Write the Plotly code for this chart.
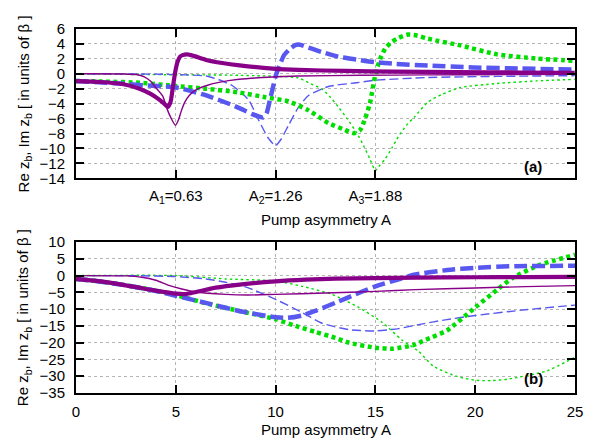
import numpy as np
import plotly.graph_objects as go

PI = np.pi

# ---------------- panel (a) data ----------------
a_re1_x = [0, 0.15, 0.3, 0.4, 0.47, 0.52, 0.555, 0.578, 0.595, 0.61, 0.625, 0.64, 0.655, 0.671, 0.70, 0.74, 0.82, 0.92, 1.03, 1.24, 1.4, 1.7, 2.0, 2.4, 2.8, 3.14]
a_re1_y = [-0.97, -1.1, -1.4, -2.0, -2.7, -3.4, -4.0, -4.45, -3.8, -1.8, 0.3, 1.65, 2.3, 2.5, 2.6, 2.4, 1.86, 1.45, 1.13, 0.7, 0.52, 0.38, 0.3, 0.22, 0.17, 0.14]

a_im1_x = [0, 0.3, 0.38, 0.43, 0.47, 0.5, 0.546, 0.575, 0.6, 0.626, 0.645, 0.661, 0.685, 0.713, 0.76, 0.818, 0.9, 1.026, 1.235, 1.4, 1.8, 2.2, 2.7, 3.14]
a_im1_y = [0, -0.02, -0.1, -0.4, -1.0, -1.8, -3.0, -4.8, -6.0, -6.9, -6.2, -5.1, -3.8, -2.9, -2.1, -1.6, -1.15, -0.74, -0.43, -0.3, -0.2, -0.15, -0.1, -0.08]

a_re2_x = [0, 0.2, 0.4, 0.63, 0.82, 0.985, 1.05, 1.11, 1.15, 1.18, 1.20, 1.22, 1.24, 1.26, 1.285, 1.31, 1.345, 1.38, 1.41, 1.464, 1.55, 1.652, 1.77, 1.882, 2.0, 2.215, 2.5, 2.8, 3.14]
a_re2_y = [-0.97, -1.2, -1.5, -1.84, -2.9, -4.2, -4.8, -5.4, -5.7, -5.85, -5.3, -3.6, -1.8, -0.1, 1.3, 2.5, 3.3, 3.85, 3.9, 3.5, 2.9, 2.3, 1.9, 1.56, 1.35, 1.1, 0.85, 0.7, 0.57]

a_im2_x = [0, 0.4, 0.7, 0.818, 0.9, 0.985, 1.05, 1.09, 1.15, 1.21, 1.256, 1.29, 1.339, 1.40, 1.464, 1.589, 1.767, 1.88, 2.215, 2.65, 3.14]
a_im2_y = [0, -0.02, -0.15, -0.3, -0.8, -1.6, -2.7, -3.6, -6.2, -8.6, -9.6, -8.8, -6.85, -4.5, -2.9, -1.7, -1.2, -0.87, -0.5, -0.35, -0.25]

a_re3_x = [0, 0.2, 0.4, 0.609, 0.818, 1.026, 1.193, 1.339, 1.464, 1.589, 1.68, 1.75, 1.79, 1.82, 1.85, 1.885, 1.915, 1.947, 1.99, 2.03, 2.09, 2.15, 2.215, 2.42, 2.65, 2.9, 3.14]
a_re3_y = [-0.97, -1.05, -1.2, -1.6, -2.0, -2.5, -3.15, -3.7, -4.9, -6.6, -7.4, -7.95, -7.5, -6.0, -4.0, -0.1, 2.0, 3.4, 4.3, 4.8, 5.25, 5.1, 4.7, 3.8, 2.6, 2.05, 1.73]

a_im3_x = [0, 0.4, 1.026, 1.4, 1.464, 1.548, 1.60, 1.652, 1.71, 1.767, 1.81, 1.85, 1.885, 1.915, 1.947, 1.99, 2.03, 2.08, 2.13, 2.215, 2.3, 2.42, 2.65, 2.9, 3.14]
a_im3_y = [0, -0.1, -0.2, -0.55, -1.2, -2.05, -3.1, -4.45, -6.1, -7.9, -9.6, -11.4, -12.95, -12.2, -11.4, -9.9, -8.4, -6.9, -5.8, -3.8, -2.8, -1.84, -1.3, -0.95, -0.75]

# ---------------- panel (b) data ----------------
b_re1_x = [0, 1, 2.5, 4, 5, 5.5, 6, 7, 8.3, 10, 11.5, 13, 15, 17, 20, 22.5, 25]
b_re1_y = [-1, -1.6, -2.9, -4.5, -5.4, -5.5, -4.9, -3.6, -2.6, -1.7, -1.2, -0.9, -0.75, -0.6, -0.5, -0.45, -0.4]

b_im1_x = [0, 2.5, 3.3, 4, 4.65, 5.3, 6, 7.5, 8.6, 10, 12.5, 15, 17, 20, 22.5, 25]
b_im1_y = [0, -0.1, -0.5, -1.4, -2.9, -4.0, -4.9, -5.6, -5.8, -5.6, -5.2, -4.7, -4.2, -3.7, -3.3, -3.0]

b_re2_x = [0, 1, 2.5, 4, 5, 6.6, 8.3, 10, 10.6, 11.33, 12, 13, 14, 15, 16, 17, 18.6, 20, 22, 25]
b_re2_y = [-1, -1.6, -2.9, -4.6, -6.0, -8.3, -10.7, -12.4, -12.6, -11.9, -10.5, -8.1, -5.6, -3.2, -1.4, 0.3, 1.65, 2.3, 2.8, 2.9]

b_im2_x = [0, 3, 5, 6.5, 7.5, 8.6, 10, 11.33, 12.33, 13.67, 15, 16.17, 17.17, 18.5, 20, 22.5, 25]
b_im2_y = [0, -0.05, -0.3, -1.0, -2.0, -3.6, -7.1, -11, -14.2, -16.1, -16.5, -15.8, -14.6, -13.2, -11.9, -10.2, -8.8]

b_re3_x = [0, 1, 2.5, 4, 5, 6.6, 8.3, 10, 11, 12, 13, 13.67, 15, 15.9, 16.9, 17.5, 18.6, 20, 21.1, 21.9, 23.2, 25]
b_re3_y = [-1, -1.6, -2.9, -4.5, -5.8, -8.4, -10.7, -13.0, -15.0, -16.8, -18.6, -20, -21.5, -21.8, -20.7, -19.2, -16.3, -9.5, -4.2, -0.6, 3.1, 6.2]

b_im3_x = [0, 5, 7.5, 10, 11.33, 12.83, 14.17, 15.33, 16.33, 17.17, 17.9, 19.1, 20, 20.8, 21.6, 23.6, 25]
b_im3_y = [0, 0, -1, -1.6, -3.2, -5.6, -9.5, -13.9, -19.2, -22.6, -27, -30.1, -31.2, -31.3, -30.9, -28.4, -24.3]

top_tickvals = [PI / 5, 2 * PI / 5, 3 * PI / 5]
top_ticktext = ["A<sub>1</sub>=0.63", "A<sub>2</sub>=1.26", "A<sub>3</sub>=1.88"]
bot_tickvals = [0, 5, 10, 15, 20, 25]

PURPLE = "#880088"
BLUE = "#5858f0"
GREEN = "#00dd00"

styles = {
    "re1": dict(color=PURPLE, width=4.2, dash="solid"),
    "im1": dict(color=PURPLE, width=1.4, dash="solid"),
    "re2": dict(color=BLUE, width=4.5, dash="13px,5px"),
    "im2": dict(color=BLUE, width=1.4, dash="9px,4px"),
    "re3": dict(color=GREEN, width=4.5, dash="4px,3.5px"),
    "im3": dict(color=GREEN, width=1.4, dash="2.5px,3px"),
}

fig = go.Figure()

def add(x, y, key, xa, ya):
    st = styles[key]
    fig.add_trace(go.Scatter(
        x=x, y=y, mode="lines", xaxis=xa, yaxis=ya, showlegend=False,
        line=dict(color=st["color"], width=st["width"], dash=st["dash"],
                  shape="spline", smoothing=0.6)))

panel_a = [("im3", a_im3_x, a_im3_y), ("im2", a_im2_x, a_im2_y), ("re3", a_re3_x, a_re3_y),
           ("re2", a_re2_x, a_re2_y), ("im1", a_im1_x, a_im1_y), ("re1", a_re1_x, a_re1_y)]
panel_b = [("im3", b_im3_x, b_im3_y), ("im2", b_im2_x, b_im2_y), ("re3", b_re3_x, b_re3_y),
           ("re2", b_re2_x, b_re2_y), ("im1", b_im1_x, b_im1_y), ("re1", b_re1_x, b_re1_y)]

for key, x, y in panel_a:
    add(x, y, key, "x", "y")
for key, x, y in panel_b:
    add(x, y, key, "x2", "y2")

FONT = "Liberation Sans, Arial, Helvetica, sans-serif"
FS = 15

axis_common = dict(
    showline=True, linecolor="black", linewidth=2, mirror="ticks",
    ticks="inside", ticklen=8, tickwidth=1.5, tickcolor="black",
    showgrid=True, gridcolor="#b4b4b4", griddash="dot", gridwidth=1,
    zeroline=False, tickfont=dict(size=FS, color="black", family=FONT),
)

# page body has an 8px offset; figure is sized so it ends at the window edge
OFF = 8
FIG_W, FIG_H = 595 - OFF, 439 - OFF
L_REF, R_REF, T_REF, B_REF = 76, 578, 20, 393

def py(pix):
    return (B_REF - pix) / (B_REF - T_REF)

def px(pix):
    return (pix - L_REF) / (R_REF - L_REF)

fig.update_layout(
    width=FIG_W, height=FIG_H,
    margin=dict(l=L_REF - OFF, r=595 - R_REF, t=T_REF - OFF, b=439 - B_REF),
    paper_bgcolor="white", plot_bgcolor="white",
    font=dict(family=FONT, size=FS, color="black"),
    xaxis=dict(axis_common, range=[0, PI], domain=[0, 1], anchor="y",
               tickvals=top_tickvals, ticktext=top_ticktext, ticklabelstandoff=3),
    yaxis=dict(axis_common, range=[-14, 6], dtick=2, domain=[py(173), 1], anchor="x",
               ticklabelstandoff=6),
    xaxis2=dict(axis_common, range=[0, 25], domain=[0, 1], anchor="y2",
                tickvals=bot_tickvals, ticklabelstandoff=4),
    yaxis2=dict(axis_common, range=[-35, 10], dtick=5, domain=[0, py(238.3)], anchor="x2",
                ticklabelstandoff=6),
)

ytitle = "Re z<sub>b</sub>, Im z<sub>b</sub> [ in units of β ]"
annotations = [
    dict(text=ytitle, xref="paper", yref="paper", x=px(24), y=py(97),
         textangle=-90, showarrow=False, xanchor="center", yanchor="middle",
         font=dict(size=FS)),
    dict(text=ytitle, xref="paper", yref="paper", x=px(24), y=py(316),
         textangle=-90, showarrow=False, xanchor="center", yanchor="middle",
         font=dict(size=FS)),
    dict(text="Pump asymmetry A", xref="paper", yref="paper", x=px(327), y=py(215),
         showarrow=False, xanchor="center", yanchor="middle", font=dict(size=FS)),
    dict(text="Pump asymmetry A", xref="paper", yref="paper", x=px(327), y=py(430),
         showarrow=False, xanchor="center", yanchor="middle", font=dict(size=FS)),
    dict(text="<b>(a)</b>", xref="paper", yref="paper", x=px(536), y=py(161),
         showarrow=False, xanchor="center", yanchor="middle", font=dict(size=FS)),
    dict(text="<b>(b)</b>", xref="paper", yref="paper", x=px(536), y=py(378),
         showarrow=False, xanchor="center", yanchor="middle", font=dict(size=FS)),
]
fig.update_layout(annotations=annotations)

fig.write_html("out.html")
